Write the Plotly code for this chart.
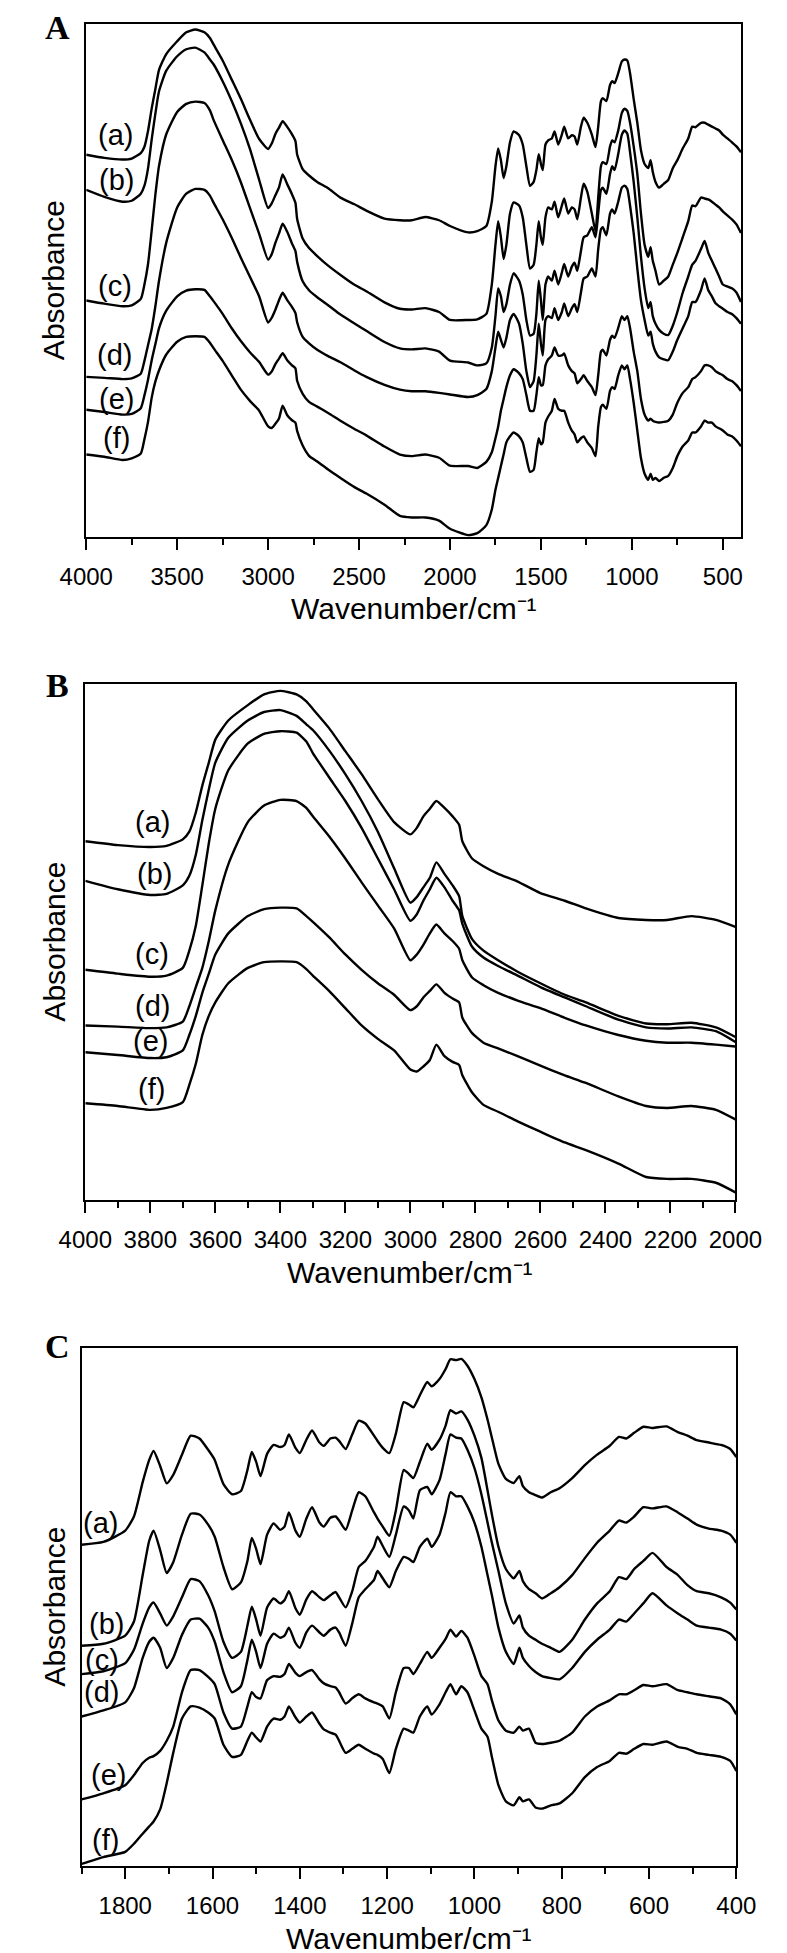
import plotly.graph_objects as go

# ---------------- Panel B : 4000-2000 cm-1 (absorbance, a.u.) ----------------
wn_hi = [4000, 3900, 3800, 3750, 3700, 3680, 3660, 3640, 3620, 3600,
         3560, 3500, 3450, 3400, 3350, 3320, 3300, 3250, 3200, 3150,
         3100, 3050, 3000, 2980, 2960, 2940, 2920, 2895, 2870, 2850,
         2840, 2810, 2775, 2730, 2670, 2600, 2525, 2460, 2360, 2275,
         2210, 2135, 2060, 2000]
hi_a = [935, 925, 920, 923, 940, 960, 1010, 1080, 1140, 1200,
        1250, 1290, 1318, 1327, 1318, 1300, 1280, 1230, 1170, 1110,
        1045, 985, 953, 970, 1000, 1020, 1040, 1022, 1000, 978,
        935, 890, 870, 850, 830, 800, 780, 760, 735, 730,
        730, 740, 730, 712]
hi_b = [832, 810, 795, 798, 820, 845, 900, 990, 1070, 1140,
        1205, 1250, 1272, 1277, 1262, 1240, 1225, 1172, 1110, 1040,
        960, 865, 775, 790, 815, 840, 880, 850, 820, 792,
        740, 680, 650, 625, 595, 565, 535, 515, 480, 460,
        458, 462, 450, 425]
hi_c = [600, 590, 582, 585, 605, 650, 715, 820, 930, 1020,
        1120, 1190, 1215, 1222, 1218, 1195, 1165, 1102, 1040, 970,
        890, 810, 728, 745, 780, 810, 840, 815, 780, 755,
        720, 660, 632, 610, 585, 555, 528, 505, 470, 450,
        447, 450, 440, 412]
hi_d = [455, 452, 448, 450, 465, 505, 555, 605, 675, 755,
        875, 985, 1028, 1043, 1040, 1022, 1000, 948, 890, 828,
        768, 708, 625, 640, 665, 695, 718, 695, 675, 655,
        625, 580, 560, 540, 520, 500, 475, 455, 430, 415,
        410, 410, 405, 400]
hi_e = [385, 378, 370, 372, 390, 430, 480, 540, 590, 640,
        695, 740, 758, 762, 760, 740, 725, 685, 640, 600,
        565, 535, 495, 505, 528, 545, 562, 540, 525, 515,
        475, 435, 410, 395, 375, 350, 325, 305, 270, 245,
        240, 245, 235, 210]
hi_f = [252, 245, 235, 240, 255, 300, 355, 430, 480, 515,
        565, 605, 620, 622, 620, 602, 585, 545, 500, 455,
        420, 390, 340, 335, 348, 365, 405, 375, 360, 352,
        325, 280, 248, 230, 205, 178, 150, 130, 95, 60,
        55, 55, 45, 20]

# ---------------- Panel C : 1900-400 cm-1 (absorbance, a.u.) ----------------
wn_lo = [1900, 1850, 1800, 1780, 1760, 1745, 1735, 1720, 1705, 1690,
         1670, 1650, 1630, 1610, 1595, 1575, 1555, 1535, 1520, 1510,
         1500, 1490, 1475, 1460, 1445, 1435, 1425, 1410, 1400, 1385,
         1372, 1355, 1345, 1330, 1318, 1310, 1295, 1280, 1265, 1250,
         1230, 1222, 1210, 1195, 1180, 1162, 1150, 1140, 1125, 1108,
         1098, 1080, 1066, 1055, 1042, 1030, 1016, 1000, 984, 970,
         960, 945, 928, 910, 897, 889, 875, 860, 845, 825,
         805, 776, 747, 719, 690, 669, 652, 634, 613, 592,
         560, 534, 512, 491, 463, 435, 414, 400]
lo_a = [795, 802, 830, 865, 950, 1005, 1027, 990, 947, 968,
        1018, 1065, 1058, 1030, 1005, 945, 920, 928, 980, 1025,
        1000, 965, 1020, 1042, 1037, 1042, 1068, 1035, 1022, 1055,
        1078, 1048, 1040, 1058, 1060, 1052, 1032, 1068, 1102, 1095,
        1065, 1052, 1035, 1022, 1070, 1148, 1142, 1135, 1165, 1198,
        1187, 1205, 1230, 1254, 1252, 1255, 1238, 1205, 1160, 1105,
        1060, 995, 958, 948, 965, 940, 925, 918, 912, 925,
        935, 960, 992, 1018, 1040, 1062, 1058, 1072, 1087, 1084,
        1088, 1074, 1065, 1054, 1048, 1042, 1032, 1012]
lo_b = [545, 550, 570, 605, 720, 805, 830, 782, 725, 752,
        820, 872, 870, 845, 815, 740, 685, 702, 755, 812,
        785, 747, 820, 848, 832, 840, 875, 830, 815, 860,
        888, 850, 840, 862, 865, 855, 832, 880, 925, 915,
        875, 860, 840, 817, 880, 980, 970, 960, 1000, 1045,
        1030, 1055, 1090, 1128, 1120, 1125, 1105, 1065, 1010, 930,
        870, 790, 735, 712, 730, 705, 685, 675, 662, 675,
        690, 720, 762, 800, 830, 855, 850, 865, 888, 885,
        890, 875, 860, 845, 835, 830, 820, 800]
lo_c = [475, 482, 502, 535, 600, 640, 652, 625, 595, 618,
        665, 710, 705, 670, 630, 555, 515, 530, 595, 642,
        610, 570, 640, 662, 650, 658, 680, 638, 622, 660,
        680, 665, 658, 670, 678, 665, 640, 680, 740, 755,
        790, 815, 792, 765, 820, 890, 880, 860, 930, 938,
        920, 955, 1020, 1068, 1060, 1058, 1030, 985, 920, 850,
        800, 730, 650, 600, 620, 590, 570, 560, 550, 540,
        530, 560, 610, 650, 680, 715, 710, 735, 755, 775,
        740, 720, 695, 680, 675, 665, 652, 635]
lo_d = [370, 385, 405, 440, 515, 555, 565, 540, 490, 515,
        572, 610, 612, 590, 555, 480, 430, 445, 510, 560,
        530, 490, 550, 575, 565, 570, 590, 552, 540, 578,
        595, 578, 570, 585, 590, 578, 545, 600, 665, 685,
        708, 730, 712, 690, 730, 765, 760, 752, 790, 810,
        790, 820, 875, 925, 915, 915, 890, 850, 790, 720,
        670, 590, 530, 500, 540, 515, 495, 480, 470, 465,
        462, 490, 530, 560, 585, 610, 605, 625, 650, 675,
        645, 625, 610, 595, 590, 585, 575, 558]
lo_e = [165, 180, 200, 225, 255, 268, 272, 285, 310, 345,
        430, 485, 485, 468, 450, 380, 340, 345, 395, 430,
        418, 415, 460, 470, 468, 475, 500, 478, 470, 480,
        485, 462, 452, 445, 442, 430, 402, 415, 425, 415,
        405, 402, 395, 365, 430, 490, 490, 475, 500, 530,
        515, 540, 562, 585, 568, 582, 565, 520, 470, 450,
        410, 360, 335, 330, 345, 335, 340, 305, 302, 305,
        310, 330, 370, 395, 410, 425, 425, 435, 448, 445,
        450, 435, 430, 425, 420, 415, 400, 375]
lo_f = [5, 22, 35, 55, 80, 98, 110, 140, 205, 280,
        365, 395, 392, 380, 365, 300, 270, 275, 310, 330,
        318, 308, 345, 365, 362, 370, 395, 368, 355, 370,
        380, 352, 338, 330, 325, 310, 280, 290, 300, 290,
        278, 275, 265, 230, 290, 340, 335, 330, 370, 395,
        375, 400, 430, 450, 425, 445, 430, 385, 340, 320,
        270, 200, 160, 150, 170, 160, 165, 145, 142, 150,
        155, 180, 220, 245, 260, 280, 278, 290, 302, 300,
        308, 295, 290, 280, 275, 270, 260, 235]

# -------- Panel A : overview 4000-400 cm-1 (absorbance, a.u.) --------
# 4000-2000 part: the panel-B spectra, stacked with these offsets
ov_offset_hi = [261, 254, 140, 46, 13, 6]
# 1900-400 part
wn_ov = [1900, 1850, 1800, 1770, 1750, 1735, 1720, 1705, 1690, 1670,
         1650, 1620, 1600, 1580, 1560, 1540, 1525, 1512, 1500, 1490,
         1475, 1460, 1440, 1425, 1405, 1385, 1372, 1350, 1330, 1315,
         1300, 1280, 1265, 1245, 1220, 1200, 1185, 1170, 1160, 1140,
         1120, 1108, 1095, 1075, 1055, 1040, 1025, 1010, 990, 970,
         950, 930, 910, 897, 885, 870, 850, 825, 800, 775,
         750, 720, 690, 668, 650, 620, 600, 580, 560, 540,
         520, 500, 475, 450, 425, 400]
ov_a = [953, 957, 973, 1049, 1160, 1216, 1179, 1123, 1160, 1235,
        1269, 1257, 1228, 1160, 1099, 1111, 1148, 1198, 1167, 1148,
        1228, 1241, 1247, 1269, 1228, 1259, 1284, 1247, 1257, 1253,
        1228, 1284, 1312, 1296, 1259, 1220, 1284, 1364, 1373, 1364,
        1414, 1426, 1420, 1451, 1488, 1494, 1491, 1451, 1370, 1296,
        1210, 1167, 1154, 1179, 1142, 1111, 1093, 1105, 1117, 1154,
        1179, 1216, 1247, 1284, 1282, 1296, 1296, 1290, 1284, 1278,
        1272, 1259, 1247, 1235, 1222, 1204]
ov_b = [679, 681, 698, 790, 914, 988, 938, 870, 914, 1012,
        1047, 1037, 1000, 914, 840, 852, 914, 988, 938, 914,
        1000, 1031, 1025, 1049, 1000, 1037, 1059, 1012, 1031, 1025,
        994, 1062, 1105, 1080, 1012, 957, 1062, 1160, 1173, 1167,
        1222, 1241, 1235, 1272, 1327, 1340, 1333, 1296, 1222, 1136,
        1012, 914, 877, 907, 864, 833, 790, 802, 815, 852,
        889, 938, 988, 1037, 1035, 1062, 1059, 1056, 1049, 1040,
        1031, 1019, 1006, 994, 978, 951]
ov_c = [546, 537, 543, 593, 691, 778, 753, 704, 728, 790,
        825, 802, 759, 679, 630, 636, 698, 802, 741, 679,
        790, 815, 802, 833, 790, 827, 854, 815, 846, 858,
        833, 895, 938, 944, 969, 938, 1012, 1086, 1093, 1074,
        1136, 1160, 1148, 1198, 1259, 1272, 1262, 1204, 1111, 1000,
        877, 778, 716, 735, 691, 667, 648, 636, 632, 661,
        704, 765, 815, 852, 864, 901, 926, 889, 864, 840,
        815, 790, 784, 778, 765, 735]
ov_d = [438, 444, 463, 519, 593, 642, 617, 593, 623, 679,
        698, 667, 605, 519, 469, 488, 568, 667, 605, 568,
        679, 691, 685, 716, 679, 704, 731, 691, 716, 728,
        704, 765, 809, 815, 840, 815, 901, 963, 969, 944,
        1012, 1025, 1012, 1049, 1093, 1099, 1089, 1037, 951, 840,
        741, 679, 630, 642, 605, 580, 562, 556, 553, 580,
        617, 654, 691, 735, 735, 772, 809, 772, 753, 731,
        722, 714, 704, 698, 685, 667]
ov_e = [222, 216, 235, 265, 309, 346, 395, 432, 469, 506,
        525, 512, 494, 444, 395, 395, 444, 500, 475, 475,
        537, 556, 568, 593, 568, 568, 574, 537, 519, 512,
        481, 494, 506, 488, 469, 444, 506, 580, 586, 568,
        617, 630, 623, 654, 691, 679, 691, 654, 580, 519,
        432, 383, 364, 370, 364, 360, 358, 360, 364, 383,
        420, 451, 469, 494, 500, 519, 537, 537, 531, 519,
        512, 506, 494, 488, 475, 457]
ov_f = [6, 12, 37, 86, 148, 185, 222, 259, 296, 315,
        327, 315, 296, 247, 204, 210, 265, 309, 290, 296,
        358, 377, 395, 432, 401, 395, 395, 358, 333, 321,
        296, 309, 315, 296, 278, 253, 346, 407, 414, 401,
        457, 469, 463, 506, 537, 525, 537, 494, 420, 333,
        247, 198, 179, 198, 179, 185, 175, 185, 191, 216,
        253, 284, 302, 327, 327, 346, 364, 358, 358, 346,
        340, 333, 321, 315, 302, 284]

sample_labels = ["(a)", "(b)", "(c)", "(d)", "(e)", "(f)"]
# label anchor points (wavenumber, a.u.) per panel
lab_A_x = [3841, 3835, 3841, 3847, 3835, 3835]
lab_A_y = [1259, 1117, 784, 568, 432, 309]
lab_B_x = [3793, 3787, 3796, 3793, 3800, 3796]
lab_B_y = [985, 850, 640, 505, 415, 290]
lab_C_x = [1856, 1844, 1854, 1854, 1839, 1846]
lab_C_y = [850, 600, 510, 430, 225, 65]

hi = [hi_a, hi_b, hi_c, hi_d, hi_e, hi_f]
lo = [lo_a, lo_b, lo_c, lo_d, lo_e, lo_f]
ov = [ov_a, ov_b, ov_c, ov_d, ov_e, ov_f]
for s in hi:
    assert len(s) == len(wn_hi), len(s)
for s in lo:
    assert len(s) == len(wn_lo), len(s)
for s in ov:
    assert len(s) == len(wn_ov), len(s)

LINE = dict(color="black", width=2.4, shape="spline", smoothing=0.55)
fig = go.Figure()
for i in range(6):
    fig.add_trace(go.Scatter(
        x=wn_hi + wn_ov,
        y=[v + ov_offset_hi[i] for v in hi[i]] + ov[i],
        mode="lines", line=LINE, xaxis="x", yaxis="y", showlegend=False))
    fig.add_trace(go.Scatter(x=wn_hi, y=hi[i], mode="lines", line=LINE,
                             xaxis="x2", yaxis="y2", showlegend=False))
    fig.add_trace(go.Scatter(x=wn_lo, y=lo[i], mode="lines", line=LINE,
                             xaxis="x3", yaxis="y3", showlegend=False))

SANS = "Liberation Sans, Arial, sans-serif"
SERIF = "Liberation Serif, Times New Roman, serif"

def xax(domain, anchor, rng, dtick, minor):
    return dict(domain=domain, anchor=anchor, range=rng, dtick=dtick, tick0=0,
                showline=True, linecolor="black", linewidth=2, mirror=True,
                ticks="outside", ticklen=11, tickwidth=2, tickcolor="black",
                ticklabelstandoff=6,
                minor=dict(dtick=minor, tick0=0, ticks="outside", ticklen=6,
                           tickwidth=2, tickcolor="black", showgrid=False),
                showgrid=False, zeroline=False,
                tickfont=dict(family=SANS, size=24, color="black"))

def yax(domain, anchor, rng):
    return dict(domain=domain, anchor=anchor, range=rng,
                showline=True, linecolor="black", linewidth=2, mirror=True,
                ticks="", showticklabels=False, showgrid=False, zeroline=False)

H = 1953.0
W = 787.0
fig.update_layout(
    width=787, height=1953,
    margin=dict(l=0, r=0, t=0, b=0),
    paper_bgcolor="white", plot_bgcolor="white",
    xaxis=xax([55 / W, 758 / W], "y", [4000, 400], 500, 250),
    yaxis=yax([1 - 529 / H, 1 - 16 / H], "x", [0, 1605]),
    xaxis2=xax([54 / W, 752 / W], "y2", [4000, 2000], 200, 100),
    yaxis2=yax([1 - 1192 / H, 1 - 676 / H], "x2", [0, 1345]),
    xaxis3=xax([50 / W, 753 / W], "y3", [1900, 400], 200, 100),
    yaxis3=yax([1 - 1858 / H, 1 - 1340 / H], "x3", [0, 1282]),
)

ann = []
for xr, yr, lx, ly in (("x", "y", lab_A_x, lab_A_y),
                       ("x2", "y2", lab_B_x, lab_B_y),
                       ("x3", "y3", lab_C_x, lab_C_y)):
    for t, xv, yv in zip(sample_labels, lx, ly):
        ann.append(dict(text=t, x=xv, y=yv, xref=xr, yref=yr, showarrow=False,
                        xanchor="center", yanchor="middle",
                        font=dict(family=SANS, size=29, color="black")))

# panel letters, axis titles
for letter, yc in (("A", 19), ("B", 677), ("C", 1338)):
    ann.append(dict(text=letter, x=24 / W, y=1 - yc / H,
                    xref="paper", yref="paper", showarrow=False,
                    xanchor="center", yanchor="middle",
                    font=dict(family=SERIF, size=34, color="black", weight="bold")))
for (x0, x1, top, bot) in ((55, 758, 16, 529), (54, 752, 676, 1192), (50, 753, 1340, 1858)):
    ann.append(dict(text="Wavenumber/cm\u207b\u00b9", x=(x0 + x1) / 2 / W,
                    y=1 - (bot + 72) / H, xref="paper", yref="paper",
                    showarrow=False, xanchor="center", yanchor="middle",
                    font=dict(family=SANS, size=30, color="black")))
    ann.append(dict(text="Absorbance", x=20 / W, y=1 - (top + bot) / 2 / H,
                    xref="paper", yref="paper", showarrow=False, textangle=-90,
                    xanchor="center", yanchor="middle",
                    font=dict(family=SANS, size=30, color="black")))
fig.update_layout(annotations=ann)

fig.write_html("out.html")
